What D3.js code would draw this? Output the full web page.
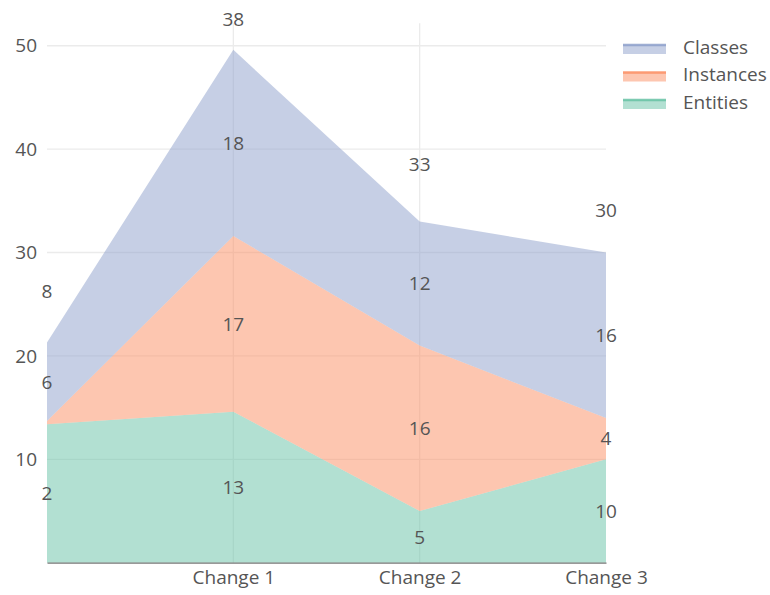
<!DOCTYPE html>
<html>
<head>
<meta charset="utf-8">
<script src="https://cdn.jsdelivr.net/npm/d3@7/dist/d3.min.js"></script>
<style>
  body { margin: 0; background: #fff; }
  svg text { font-family: "Open Sans", "Noto Sans", sans-serif; }
</style>
</head>
<body>
<svg id="chart" width="770" height="595"></svg>
<script>
// Categories along the x axis (first position has no label)
const categories = ["", "Change 1", "Change 2", "Change 3"];

// Stacked series values, bottom to top
const entities  = [13.4, 14.6, 5, 10];
const instances = [0.3, 17, 16, 4];
const classes   = [7.6, 18, 12, 16];

// Y tick values
const yTicks = [10, 20, 30, 40, 50];

// Annotation texts printed on each band, and on top of each column
const entitiesText  = ["2", "13", "5", "10"];
const instancesText = [null, "17", "16", "4"];
const classesText   = ["6", "18", "12", "16"];
const totalText     = ["8", "38", "33", "30"];
const totalTextAt   = [26.3, 52.6, 38.5, 34.1];

const seriesNames = ["Entities", "Instances", "Classes"];
const colors = { Entities: "#66c2a5", Instances: "#fc8d62", Classes: "#8da0cb" };
const bandText = { Entities: entitiesText, Instances: instancesText, Classes: classesText };

const rows = categories.map((c, i) => ({
  cat: c, Entities: entities[i], Instances: instances[i], Classes: classes[i]
}));

const svg = d3.select("#chart");
const plotLeft = 47, plotRight = 606, plotTop = 23.3, plotBottom = 562.7;
const fontSize = 19;

const x = d3.scalePoint().domain(categories).range([plotLeft, plotRight]);
const y = d3.scaleLinear().domain([0, 52.17]).range([plotBottom, plotTop]);

const stacked = d3.stack().keys(seriesNames)(rows);

// horizontal grid
svg.append("g").selectAll("line").data(yTicks).join("line")
  .attr("x1", plotLeft).attr("x2", plotRight)
  .attr("y1", d => y(d)).attr("y2", d => y(d))
  .attr("stroke", "#ebebeb").attr("stroke-width", 1.3);

// vertical grid at inner categories
svg.append("g").selectAll("line").data(categories.slice(1, -1)).join("line")
  .attr("x1", d => x(d)).attr("x2", d => x(d))
  .attr("y1", plotTop).attr("y2", plotBottom)
  .attr("stroke", "#ebebeb").attr("stroke-width", 1.3);

// stacked areas
const area = d3.area()
  .x(d => x(d.data.cat))
  .y0(d => y(d[0]))
  .y1(d => y(d[1]));

svg.append("g").selectAll("path").data(stacked).join("path")
  .attr("d", area)
  .attr("fill", d => colors[d.key])
  .attr("fill-opacity", 0.5);

// y axis labels
const yAxis = svg.append("g")
  .attr("transform", `translate(${plotLeft},0)`)
  .call(d3.axisLeft(y).tickValues(yTicks).tickSize(0).tickPadding(10));
yAxis.select(".domain").remove();
yAxis.selectAll("text").attr("font-size", fontSize).attr("fill", "#555")
  .style("font-family", "\"Open Sans\", sans-serif");

// x axis
const xAxis = svg.append("g")
  .attr("transform", `translate(0,${plotBottom})`)
  .call(d3.axisBottom(x).tickSize(0).tickPadding(8));
xAxis.select(".domain").attr("stroke", "#777").attr("stroke-width", 1.2);
xAxis.selectAll("text").attr("font-size", fontSize).attr("fill", "#555")
  .style("font-family", "\"Open Sans\", sans-serif");

// band annotations at each band's middle
const labelG = svg.append("g")
  .attr("font-size", fontSize).attr("fill", "#555").attr("text-anchor", "middle");
stacked.forEach(s => {
  s.forEach((d, i) => {
    const t = bandText[s.key][i];
    if (t == null) return;
    labelG.append("text")
      .attr("x", x(d.data.cat))
      .attr("y", y((d[0] + d[1]) / 2))
      .attr("dy", "0.36em")
      .text(t);
  });
});
categories.forEach((c, i) => {
  labelG.append("text")
    .attr("x", x(c))
    .attr("y", y(totalTextAt[i]))
    .attr("dy", "0.36em")
    .text(totalText[i]);
});

// legend
const legend = svg.append("g").attr("transform", "translate(623,0)");
const legendOrder = ["Classes", "Instances", "Entities"];
legendOrder.forEach((name, i) => {
  const cy = 45 + i * 27.5;
  const g = legend.append("g").attr("transform", `translate(0,${cy})`);
  g.append("rect").attr("x", 0).attr("y", 0).attr("width", 43).attr("height", 9)
    .attr("fill", colors[name]).attr("fill-opacity", 0.5);
  g.append("line").attr("x1", 0).attr("x2", 43).attr("y1", 0).attr("y2", 0)
    .attr("stroke", colors[name]).attr("stroke-width", 2.5).attr("stroke-opacity", 0.85);
  g.append("text").attr("x", 60).attr("y", 2).attr("dy", "0.36em")
    .attr("font-size", fontSize).attr("fill", "#555").text(name);
});
</script>
</body>
</html>
